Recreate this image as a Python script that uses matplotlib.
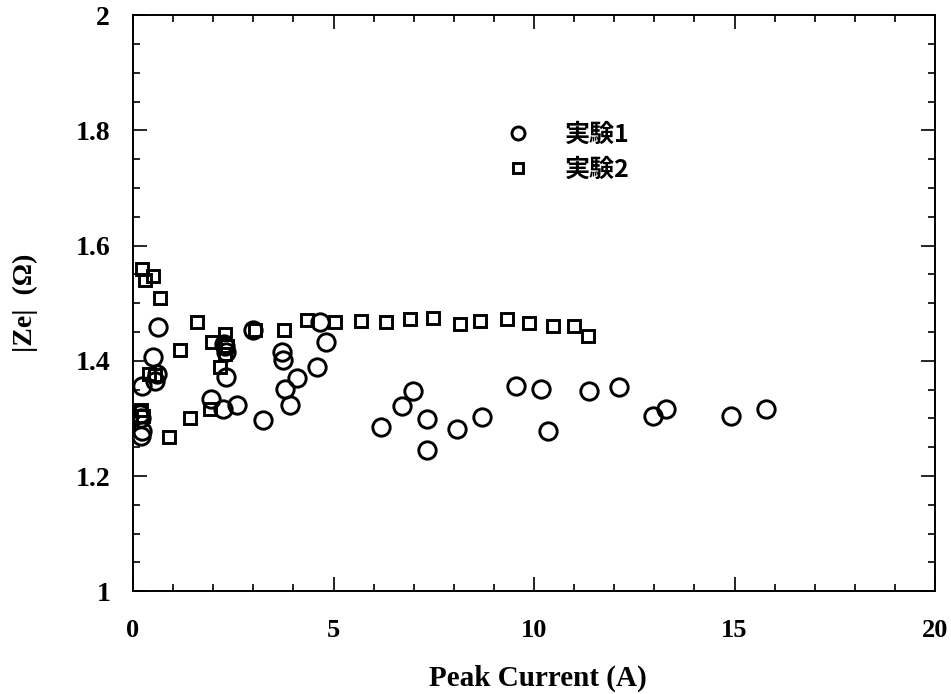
import matplotlib
matplotlib.use("Agg")
import matplotlib.pyplot as plt
from matplotlib.ticker import MultipleLocator

# experiment 1 (circles)
exp1_current = [0.17, 0.20, 0.22, 0.20, 0.22, 0.49, 0.55, 0.59, 0.63,
                1.95, 2.25, 2.28, 2.30, 2.32, 2.32, 2.59, 2.98, 3.23,
                3.71, 3.73, 3.79, 3.92, 4.08, 4.58, 4.66, 4.81, 6.18,
                6.70, 6.99, 7.32, 7.32, 8.07, 8.70, 9.55, 10.17, 10.36,
                11.38, 12.12, 12.96, 13.29, 14.91, 15.79]
exp1_ze = [1.308, 1.300, 1.278, 1.270, 1.357, 1.407, 1.365, 1.378, 1.459,
           1.334, 1.317, 1.430, 1.425, 1.415, 1.372, 1.323, 1.453, 1.297,
           1.416, 1.401, 1.352, 1.323, 1.371, 1.390, 1.467, 1.433, 1.285,
           1.322, 1.348, 1.299, 1.246, 1.282, 1.303, 1.357, 1.352, 1.279,
           1.348, 1.355, 1.304, 1.317, 1.304, 1.316]

# experiment 2 (squares)
exp2_current = [0.22, 0.30, 0.51, 0.67, 0.20, 0.25, 0.40, 0.55, 0.90,
                1.17, 1.42, 1.59, 1.92, 1.96, 2.17, 2.29, 2.35, 2.30,
                3.04, 3.77, 4.34, 5.04, 5.69, 6.30, 6.91, 7.49, 8.15,
                8.65, 9.32, 9.88, 10.47, 11.00, 11.35]
exp2_ze = [1.559, 1.541, 1.548, 1.510, 1.315, 1.305, 1.378, 1.375, 1.268,
           1.419, 1.300, 1.468, 1.316, 1.432, 1.390, 1.446, 1.425, 1.412,
           1.454, 1.453, 1.471, 1.468, 1.470, 1.467, 1.472, 1.475, 1.464,
           1.470, 1.472, 1.465, 1.461, 1.461, 1.443]

labels = ["実験1", "実験2"]
xticks = [0, 5, 10, 15, 20]
yticks = [1, 1.2, 1.4, 1.6, 1.8, 2]
xtick_labels = ["0", "5", "10", "15", "20"]
ytick_labels = ["1", "1.2", "1.4", "1.6", "1.8", "2"]

serif = ["Liberation Serif", "DejaVu Serif"]
cjk = ["Noto Sans CJK JP", "DejaVu Sans"]

fig = plt.figure(figsize=(9.51, 6.94), dpi=100)
ax = fig.add_axes([0.1399, 0.148, 0.8433, 0.83])

ax.plot(exp1_current, exp1_ze, linestyle="none", marker="o", markersize=12.5,
        markerfacecolor="none", markeredgecolor="black", markeredgewidth=2.1,
        label=labels[0])
ax.plot(exp2_current, exp2_ze, linestyle="none", marker="s", markersize=9,
        markerfacecolor="none", markeredgecolor="black", markeredgewidth=2.1,
        label=labels[1])

ax.set_xlim(0, 20)
ax.set_ylim(1, 2)
ax.xaxis.set_minor_locator(MultipleLocator(1))
ax.yaxis.set_minor_locator(MultipleLocator(0.05))
ax.set_xticks(xticks, xtick_labels)
ax.set_yticks(yticks, ytick_labels)

ax.tick_params(which="both", direction="in", top=True, right=True,
               width=1.2, color="black")
ax.tick_params(which="major", length=10)
ax.tick_params(which="minor", length=5)
ax.tick_params(axis="x", pad=20)
ax.tick_params(axis="y", pad=16.5)
for lab in ax.get_xticklabels():
    lab.set_fontfamily(serif)
    lab.set_fontweight("bold")
    lab.set_fontsize(19)
for lab in ax.get_yticklabels():
    lab.set_fontfamily(serif)
    lab.set_fontweight("bold")
    lab.set_fontsize(20)
for sp in ax.spines.values():
    sp.set_linewidth(1.4)

ax.set_xlabel("Peak Current (A)", fontfamily=serif, fontweight="bold",
              fontsize=21)
ax.xaxis.set_label_coords(0.505, -0.128)
ax.set_ylabel("|Ze|  (Ω)", fontfamily=serif, fontweight="bold",
              fontsize=20)
ax.yaxis.set_label_coords(-0.118, 0.5)

leg = ax.legend(loc="upper left", bbox_to_anchor=(0.4645, 0.8126),
                frameon=False, borderpad=0, borderaxespad=0,
                markerscale=0.75, handlelength=1.0, handletextpad=1.38,
                labelspacing=0.42, prop={"family": cjk, "weight": "bold",
                                         "size": 18})

fig.savefig("out.png", dpi=100)
